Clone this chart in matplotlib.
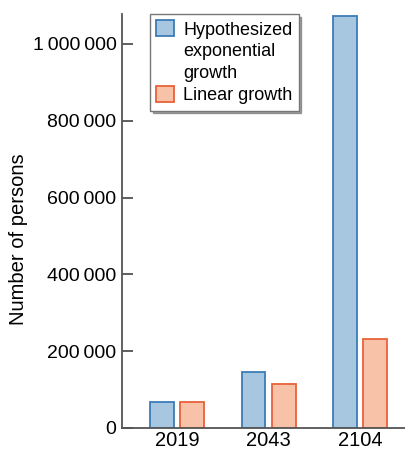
import matplotlib
matplotlib.use("Agg")
import matplotlib.pyplot as plt
import numpy as np
from matplotlib.patches import Patch
from matplotlib.ticker import FuncFormatter

# Values
years = ["2019", "2043", "2104"]
exponential = [67000, 145000, 1074000]
linear = [67000, 114000, 231000]
y_ticks = [0, 200000, 400000, 600000, 800000, 1000000]

plt.rcParams["font.family"] = ["Liberation Sans", "DejaVu Sans"]

blue_fill, blue_edge = "#a7c6e0", "#3d7cb8"
orange_fill, orange_edge = "#f7c2a8", "#e9623a"

fig = plt.figure(figsize=(4.05, 4.5), dpi=100)
ax = fig.add_axes([122 / 405, 22 / 450, 283 / 405, 414 / 450])

x = np.arange(len(years))
w = 0.26
ax.bar(x - 0.165, exponential, w, color=blue_fill, edgecolor=blue_edge,
       linewidth=1.3)
ax.bar(x + 0.165, linear, w, color=orange_fill, edgecolor=orange_edge,
       linewidth=1.3)

ax.set_xlim(-0.6, 2.49)
ax.set_ylim(0, 1078000)
ax.set_xticks(x)
ax.set_xticklabels(years)
ax.set_yticks(y_ticks)
ax.yaxis.set_major_formatter(
    FuncFormatter(lambda v, p: f"{int(v):,}".replace(",", "\u2009")))

ax.tick_params(axis="y", direction="in", length=8, width=1.2,
               color="#444444", labelsize=14, pad=4)
ax.tick_params(axis="x", length=0, labelsize=14.5, pad=2)

for s in ["top", "right"]:
    ax.spines[s].set_visible(False)
for s in ["left", "bottom"]:
    ax.spines[s].set_color("#555555")
    ax.spines[s].set_linewidth(1.3)

ax.set_ylabel("Number of persons", fontsize=14.5)
ax.yaxis.set_label_coords(-0.333, 0.457)

# legend: multi-line label split so the swatch sits on the first line
blank = Patch(facecolor="none", edgecolor="none")
handles = [Patch(facecolor=blue_fill, edgecolor=blue_edge, linewidth=1.3),
           blank, blank,
           Patch(facecolor=orange_fill, edgecolor=orange_edge, linewidth=1.3)]
labels = ["Hypothesized", "exponential", "growth", "Linear growth"]
leg = ax.legend(handles, labels, loc="upper left", bbox_to_anchor=(0.098, 1.0),
                fontsize=13, frameon=True, fancybox=False, shadow=True,
                edgecolor="#777777", handlelength=1.0, handleheight=1.0,
                handletextpad=0.5, borderpad=0.35, labelspacing=0.2,
                borderaxespad=0.0)
leg.get_frame().set_linewidth(1.0)

fig.savefig("out.png", dpi=100)
